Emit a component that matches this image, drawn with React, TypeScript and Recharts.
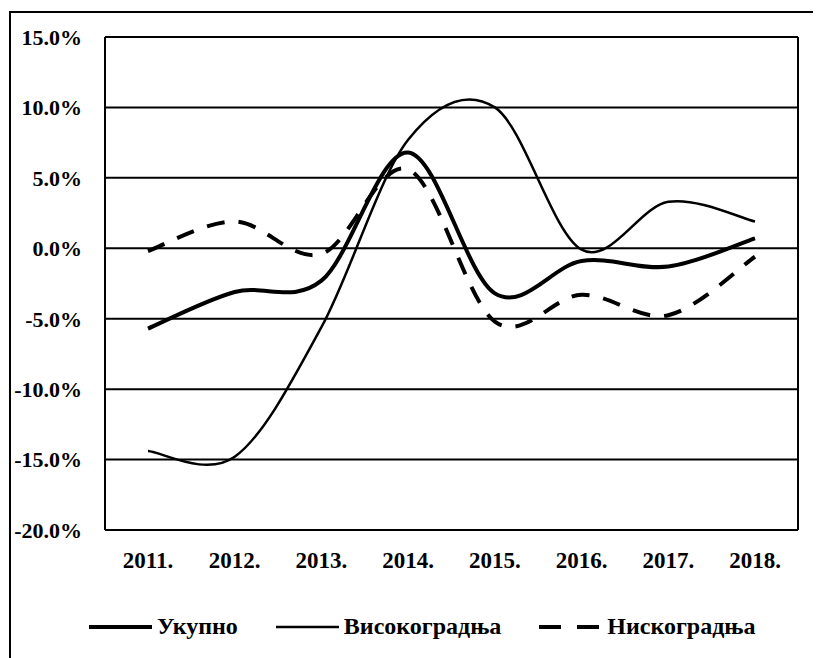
import React from 'react';
import { LineChart, Line, XAxis, YAxis, CartesianGrid } from 'recharts';

const years = ['2011.', '2012.', '2013.', '2014.', '2015.', '2016.', '2017.', '2018.'];
const ukupno = [-5.7, -3.1, -2.3, 6.8, -3.2, -0.9, -1.3, 0.7];
const visokogradnja = [-14.4, -14.8, -5.6, 7.7, 10.0, -0.1, 3.3, 1.9];
const niskogradnja = [-0.2, 1.9, -0.4, 5.6, -5.2, -3.3, -4.75, -0.6];
const yTicks = [15, 10, 5, 0, -5, -10, -15, -20];
const seriesNames = ['Укупно', 'Високоградња', 'Нискоградња'];

const data = years.map((y, i) => ({
  year: y,
  ukupno: ukupno[i],
  visoko: visokogradnja[i],
  nisko: niskogradnja[i],
}));

// Excel-like smoothed line (Catmull-Rom style Bezier)
function excelCurve(context: any) {
  let xs: number[] = [];
  let ys: number[] = [];
  return {
    areaStart() {},
    areaEnd() {},
    lineStart() {
      xs = [];
      ys = [];
    },
    lineEnd() {
      const n = xs.length;
      if (n === 0) return;
      context.moveTo(xs[0], ys[0]);
      for (let i = 0; i < n - 1; i++) {
        const i0 = Math.max(i - 1, 0);
        const i3 = Math.min(i + 2, n - 1);
        const x0 = xs[i0], y0 = ys[i0];
        const x1 = xs[i], y1 = ys[i];
        const x2 = xs[i + 1], y2 = ys[i + 1];
        const x3 = xs[i3], y3 = ys[i3];
        context.bezierCurveTo(
          x1 + (x2 - x0) / 6,
          y1 + (y2 - y0) / 6,
          x2 - (x3 - x1) / 6,
          y2 - (y3 - y1) / 6,
          x2,
          y2
        );
      }
    },
    point(x: number, y: number) {
      xs.push(+x);
      ys.push(+y);
    },
  };
}

const FONT = "'Liberation Serif', 'Times New Roman', serif";

const legendItems = [
  { name: seriesNames[0], width: 4, dash: undefined as string | undefined },
  { name: seriesNames[1], width: 2.5, dash: undefined as string | undefined },
  { name: seriesNames[2], width: 4, dash: '22 16' },
];

export default function App() {
  return (
    <div style={{ position: 'relative', width: 813, height: 650, background: '#fff', overflow: 'hidden' }}>
      <div
        style={{
          position: 'absolute',
          left: 1,
          top: 3,
          width: 802,
          height: 700,
          borderTop: '2px solid #000',
          borderLeft: '2px solid #000',
        }}
      />
      <div style={{ position: 'absolute', left: 0, top: 0 }}>
        <LineChart
          width={805}
          height={640}
          data={data}
          margin={{ top: 29, right: 15, left: 0, bottom: 78 }}
        >
          <CartesianGrid
            stroke="#000"
            strokeWidth={2}
            horizontal={true}
            vertical={true}
            verticalCoordinatesGenerator={({ offset }: any) => [offset.left, offset.left + offset.width]}
          />
          <XAxis
            dataKey="year"
            type="category"
            padding={{ left: 43, right: 43 }}
            axisLine={{ stroke: '#000', strokeWidth: 2 }}
            tickLine={false}
            tickMargin={16}
            height={40}
            tick={{ fill: '#000', fontSize: 23, fontWeight: 'bold', fontFamily: FONT }}
            interval={0}
          />
          <YAxis
            type="number"
            domain={[-20, 15]}
            ticks={yTicks}
            width={97}
            axisLine={{ stroke: '#000', strokeWidth: 2 }}
            tickLine={false}
            tickMargin={17}
            tickFormatter={(v: number) => `${v.toFixed(1)}%`}
            tick={{ fill: '#000', fontSize: 22, fontWeight: 'bold', fontFamily: FONT }}
            interval={0}
          />
          <Line
            dataKey="visoko"
            name={seriesNames[1]}
            type={excelCurve as any}
            stroke="#000"
            strokeWidth={2.5}
            dot={false}
            isAnimationActive={false}
          />
          <Line
            dataKey="ukupno"
            name={seriesNames[0]}
            type={excelCurve as any}
            stroke="#000"
            strokeWidth={4}
            dot={false}
            isAnimationActive={false}
          />
          <Line
            dataKey="nisko"
            name={seriesNames[2]}
            type={excelCurve as any}
            stroke="#000"
            strokeWidth={4}
            strokeDasharray="18 14"
            dot={false}
            isAnimationActive={false}
          />
        </LineChart>
      </div>
      <div
        style={{
          position: 'absolute',
          left: 80,
          top: 605,
          display: 'flex',
          alignItems: 'center',
          fontFamily: FONT,
          fontWeight: 'bold',
          fontSize: 24,
          color: '#000',
        }}
      >
        {legendItems.map((it, i) => (
          <div key={it.name} style={{ display: 'flex', alignItems: 'center', marginLeft: i === 0 ? 0 : 37 }}>
            <svg width={65} height={10} style={{ display: 'block' }}>
              <line
                x1={1}
                y1={5}
                x2={64}
                y2={5}
                stroke="#000"
                strokeWidth={it.width}
                strokeDasharray={it.dash}
              />
            </svg>
            <span style={{ marginLeft: 4, whiteSpace: 'nowrap' }}>{it.name}</span>
          </div>
        ))}
      </div>
    </div>
  );
}
